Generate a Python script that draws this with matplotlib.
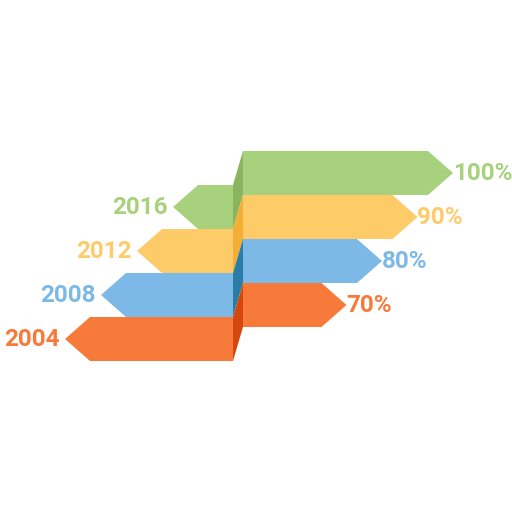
import matplotlib
matplotlib.use("Agg")
import matplotlib.pyplot as plt
from matplotlib.patches import Polygon

# data, top bar first
years = ["2016", "2012", "2008", "2004"]
year_values = [2016, 2012, 2008, 2004]
percents = [100, 90, 80, 70]
pct_labels = ["100%", "90%", "80%", "70%"]

face_colors = ["#A8D17D", "#FECB69", "#7DB9E7", "#F77A3A"]
side_colors = ["#8AB45E", "#F2AE35", "#2A7DA6", "#D6470E"]

# layout (pixels, y grows downward)
step = 44          # height of each bar
right_top0 = 151   # top of the first right-hand bar
lift = 34          # right half sits this much higher than the left half
x_split = 233      # right edge of the left halves
depth = 10         # width of the slanted side face
head = 25          # arrow head length


def pct_to_x(p):
    return 73 + 3.55 * p


def year_to_x(y):
    return 173 - 9 * (2016 - y)


fig = plt.figure(figsize=(5.12, 5.12), dpi=100)
ax = fig.add_axes([0, 0, 1, 1])
ax.set_xlim(0, 512)
ax.set_ylim(512, 0)
ax.axis("off")

for i in range(len(years)):
    rt = right_top0 + step * i
    rb = rt + step
    lt = rt + lift
    lb = lt + step
    rm = (rt + rb) / 2
    lm = (lt + lb) / 2

    # right arrow
    x_end = pct_to_x(percents[i])
    x0 = x_split + depth
    ax.add_patch(Polygon([(x0, rt), (x_end, rt), (x_end + head, rm),
                          (x_end, rb), (x0, rb)],
                         closed=True, fc=face_colors[i], ec="none"))
    # side face
    ax.add_patch(Polygon([(x_split, lt), (x0, rt), (x0, rb), (x_split, lb)],
                         closed=True, fc=side_colors[i], ec="none"))
    # left arrow
    tip = year_to_x(year_values[i])
    ax.add_patch(Polygon([(x_split, lt), (tip + head, lt), (tip, lm),
                          (tip + head, lb), (x_split, lb)],
                         closed=True, fc=face_colors[i], ec="none"))

    ax.text(tip - 5, lm + 1, years[i], color=face_colors[i], fontsize=17.5,
            fontweight="bold", family="Roboto", ha="right", va="center")
    ax.text(x_end + head, rm + 1, pct_labels[i], color=face_colors[i],
            fontsize=17.5, fontweight="bold", family="Roboto", ha="left",
            va="center")

fig.savefig("out.png", dpi=100)
